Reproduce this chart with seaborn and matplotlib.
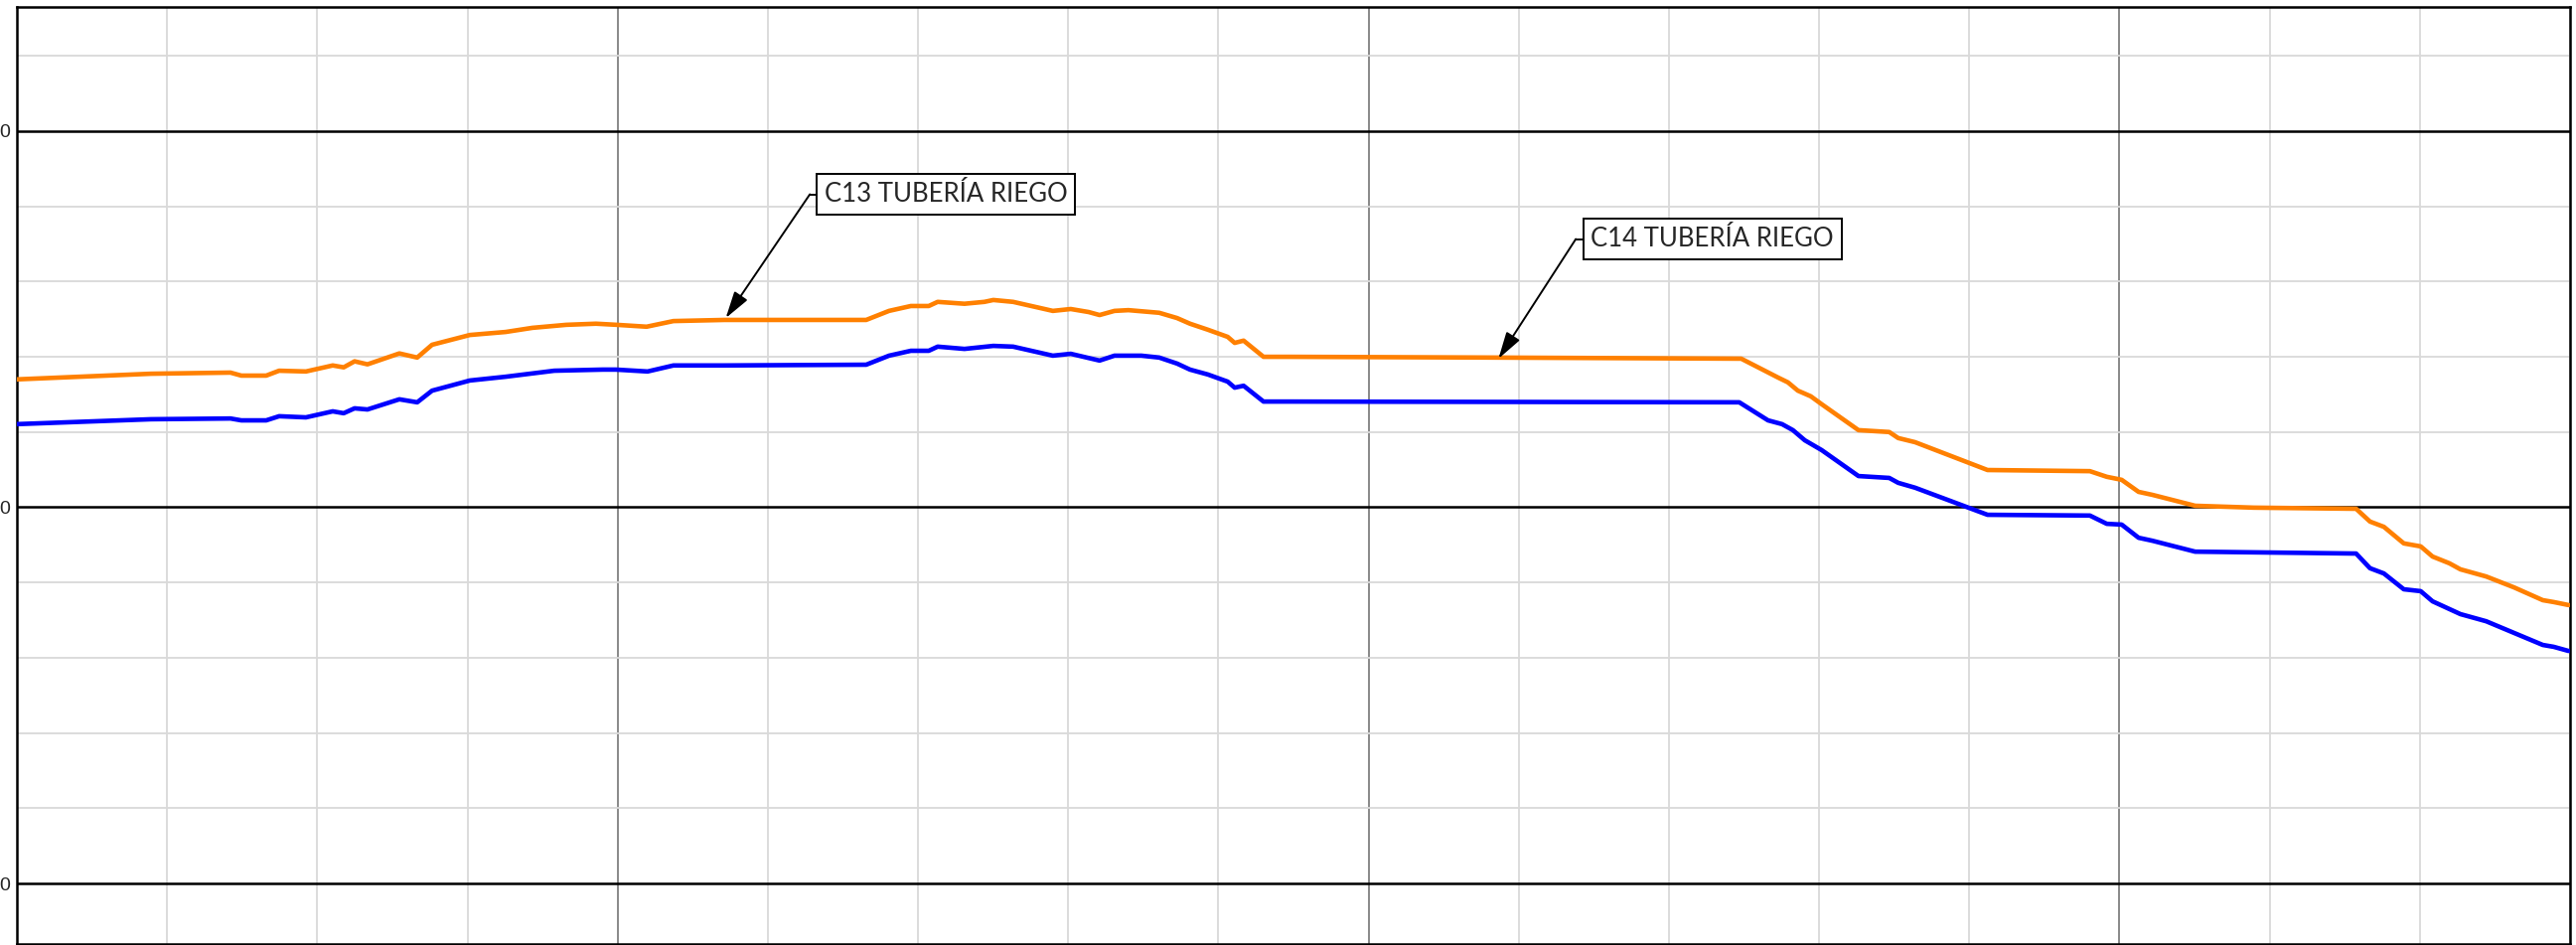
import matplotlib
matplotlib.use('Agg')
import matplotlib.pyplot as plt
import seaborn as sns
import pandas as pd
from matplotlib.ticker import FixedLocator, MultipleLocator

# distance along the profile (same stations for both lines)
dist_c13 = [0.0, 17.86, 28.44, 29.89, 33.20, 34.92, 38.49, 42.06, 43.52, 44.97,
            46.69, 50.93, 53.31, 55.29, 60.32, 65.08, 68.65, 73.15, 77.12, 79.89,
            83.86, 87.43, 94.18, 113.10, 116.14, 119.05, 121.43, 122.62, 126.19, 128.84,
            130.03, 132.67, 137.96, 140.34, 142.72, 144.18, 146.16, 148.02, 152.12, 154.50,
            156.22, 158.60, 161.24, 162.17, 163.36, 166.01, 169.71, 196.16, 229.63, 234.52,
            235.85, 237.17, 238.89, 240.34, 245.24, 249.34, 250.53, 252.78, 262.43, 276.06,
            278.31, 280.29, 282.54, 284.39, 290.08, 297.88, 311.51, 313.36, 315.21, 317.86,
            320.11, 321.69, 323.94, 325.40, 328.83, 332.54, 336.37, 337.83, 339.81]
elev_c13 = [13.40, 13.55, 13.58, 13.50, 13.50, 13.63, 13.61, 13.77, 13.72, 13.88,
            13.80, 14.09, 13.98, 14.32, 14.58, 14.66, 14.77, 14.85, 14.88, 14.85,
            14.80, 14.95, 14.98, 14.98, 15.22, 15.35, 15.35, 15.46, 15.41, 15.46,
            15.51, 15.46, 15.22, 15.27, 15.19, 15.11, 15.22, 15.24, 15.17, 15.03,
            14.88, 14.72, 14.53, 14.37, 14.43, 14.00, 14.00, 13.98, 13.95, 13.45,
            13.32, 13.10, 12.95, 12.74, 12.05, 12.00, 11.84, 11.73, 10.99, 10.96,
            10.81, 10.73, 10.41, 10.33, 10.04, 9.99, 9.96, 9.62, 9.48, 9.04,
            8.96, 8.69, 8.51, 8.35, 8.16, 7.87, 7.53, 7.48, 7.40]

dist_c14 = [0.0, 17.86, 28.44, 29.89, 33.20, 34.92, 38.49, 42.06, 43.52, 44.97,
            46.69, 50.93, 53.31, 55.29, 60.32, 65.08, 71.56, 78.04, 79.76, 83.99,
            87.43, 94.18, 113.10, 116.14, 119.05, 121.43, 122.62, 126.19, 130.03, 132.67,
            137.96, 140.34, 144.18, 146.16, 149.74, 152.12, 154.50, 156.22, 158.60, 161.24,
            162.17, 163.36, 166.01, 169.71, 229.37, 233.20, 235.06, 236.51, 238.10, 240.34,
            245.24, 249.34, 250.53, 252.78, 262.43, 276.06, 278.31, 280.29, 282.54, 284.39,
            290.08, 311.51, 313.36, 315.21, 317.86, 320.11, 321.69, 325.40, 328.83, 332.54,
            336.37, 337.83, 339.81]
elev_c14 = [12.21, 12.34, 12.36, 12.31, 12.31, 12.42, 12.39, 12.55, 12.50, 12.63,
            12.60, 12.87, 12.79, 13.10, 13.37, 13.47, 13.63, 13.66, 13.66, 13.61,
            13.77, 13.77, 13.79, 14.03, 14.16, 14.16, 14.27, 14.21, 14.29, 14.27,
            14.03, 14.08, 13.90, 14.03, 14.03, 13.98, 13.82, 13.66, 13.53, 13.34,
            13.18, 13.23, 12.81, 12.81, 12.79, 12.31, 12.21, 12.05, 11.78, 11.52,
            10.83, 10.78, 10.65, 10.52, 9.80, 9.78, 9.56, 9.54, 9.19, 9.11,
            8.82, 8.77, 8.38, 8.24, 7.82, 7.77, 7.50, 7.16, 6.97, 6.66,
            6.34, 6.29, 6.18]

y_major = [0, 10, 20]
y_labels = ["0", "0", "0"]
x_major = [80, 180, 280]

labels = ["C13 TUBERÍA RIEGO", "C14 TUBERÍA RIEGO"]

sns.set_style("white")

df = pd.concat([
    pd.DataFrame({"dist": dist_c13, "elev": elev_c13, "serie": "C13"}),
    pd.DataFrame({"dist": dist_c14, "elev": elev_c14, "serie": "C14"}),
])

fig = plt.figure(figsize=(25.93, 9.51), dpi=100)
ax = fig.add_axes([17 / 2593, 1 / 951, 2570 / 2593, 943 / 951])

sns.lineplot(data=df, x="dist", y="elev", hue="serie", estimator=None, sort=False,
             palette={"C13": "#ff8000", "C14": "#0000ff"}, linewidth=3.3,
             legend=False, ax=ax, zorder=5)

ax.set_xlim(0, 340)
ax.set_ylim(-1.61, 23.30)
ax.xaxis.set_major_locator(FixedLocator(x_major))
ax.xaxis.set_minor_locator(MultipleLocator(20))
ax.yaxis.set_major_locator(FixedLocator(y_major))
ax.yaxis.set_minor_locator(MultipleLocator(2))

ax.grid(which='minor', color='#d9d9d9', linewidth=1.3)
ax.grid(which='major', axis='x', color='#808080', linewidth=1.3)
ax.grid(which='major', axis='y', color='black', linewidth=1.8)
ax.set_axisbelow(True)

ax.set_yticklabels(y_labels, fontsize=14, family='Liberation Sans')
ax.set_xticklabels([])
ax.tick_params(which='both', length=0)
ax.tick_params(axis='y', pad=5)
ax.set_xlabel("")
ax.set_ylabel("")
for s in ax.spines.values():
    s.set_color('black')
    s.set_linewidth(1.8)

# call-outs: (arrow tip, elbow, box left)
callouts = [
    (labels[0], (94.4, 15.03), (105.6, 18.32), 106.4),
    (labels[1], (197.3, 13.95), (207.6, 17.13), 208.5),
]
for text, tip, elbow, box_x in callouts:
    ax.annotate('', xy=tip, xytext=elbow,
                arrowprops=dict(arrowstyle='-|>,head_length=0.55,head_width=0.16',
                                color='black', lw=1.4, mutation_scale=30,
                                shrinkA=0, shrinkB=0), zorder=6)
    ax.plot([elbow[0], box_x], [elbow[1], elbow[1]], color='black', lw=1.4, zorder=6)
    ax.text(box_x + 1.1, elbow[1], text, ha='left', va='center', fontsize=18.5,
            family='Lato', zorder=7,
            bbox=dict(boxstyle='square,pad=0.3', fc='white', ec='black', lw=1.4))

fig.savefig("out.png", dpi=100)
plt.close(fig)
